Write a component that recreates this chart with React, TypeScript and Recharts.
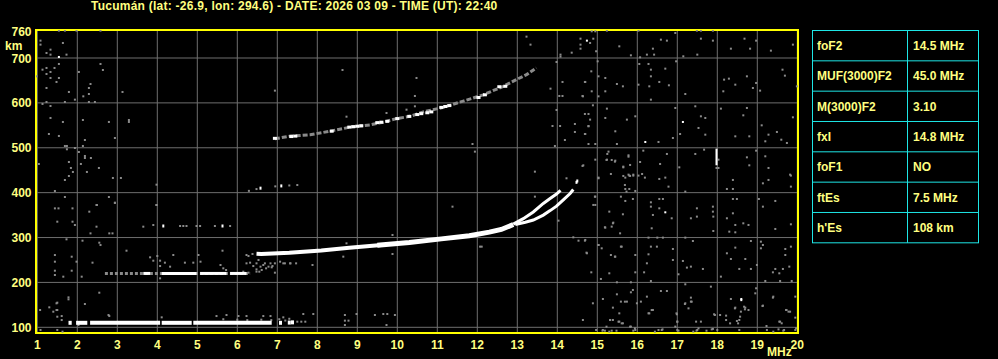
import React from 'react';
import { ScatterChart, Scatter, XAxis, YAxis, CartesianGrid, ReferenceArea } from 'recharts';

type P = [number, number];

const title = 'Tucumán (lat: -26.9, lon: 294.6) - DATE: 2026 03 09 - TIME (UT): 22:40';
const freqTicks = [1, 2, 3, 4, 5, 6, 7, 8, 9, 10, 11, 12, 13, 14, 15, 16, 17, 18, 19, 20];
const heightTicks = [100, 200, 300, 400, 500, 600, 700, 760];
const gridHeights = [100, 200, 300, 400, 500, 600, 700];

const paramNames = ['foF2', 'MUF(3000)F2', 'M(3000)F2', 'fxI', 'foF1', 'ftEs', "h'Es"];
const paramValues = ['14.5 MHz', '45.0 MHz', '3.10', '14.8 MHz', 'NO', '7.5 MHz', '108 km'];

// sporadic E trace (freq ranges at fixed virtual height)
const esHeight = 110;
const esSegments: P[] = [[1.78, 1.86], [1.97, 2.25], [2.32, 4.07], [4.11, 4.86], [4.9, 6.86]];
const esTail: P[] = [[7.08, 110], [7.3, 110.5], [7.38, 111]];

// Es second hop
const es2Height = 220;
const es2Gray: P = [2.69, 6.32];
const es2Segments: P[] = [[3.65, 3.82], [4.11, 4.98], [5.07, 5.73], [5.82, 6.23]];
const es3Gray: P[] = [[4.57, 325.7], [4.65, 325.7], [4.73, 325.7], [4.98, 325.7], [5.07, 325.7], [5.44, 325.7], [5.82, 325.7]];
const es3White: P[] = [[4.15, 325.7], [5.63, 325.7]];

// F layer trace
const fLow: P[] = [[6.48, 264], [6.6, 263.5], [7.3, 266], [8.1, 271], [8.8, 277], [9.6, 283.5]];
const fHigh: P[] = [[9.5, 282.7], [10.3, 289], [11.1, 297], [11.8, 304], [12.3, 312], [12.6, 318], [12.9, 329]];
const oBranch: P[] = [[12.9, 330], [13.15, 342], [13.4, 357], [13.65, 376], [13.82, 387], [13.98, 397], [14.08, 405]];
const xBranch: P[] = [[12.95, 329], [13.2, 334], [13.4, 339], [13.65, 350], [13.82, 360], [13.98, 370], [14.15, 384], [14.32, 398], [14.4, 407]];
const traceEnd: P[] = [[14.48, 423], [14.5, 426]];

// F second hop
const f2Hop: P[] = [[6.94, 520], [7.32, 526], [7.82, 529], [8.32, 537], [8.82, 546], [9.32, 551], [9.65, 557], [9.98, 565], [10.32, 570], [10.65, 580], [11.15, 590], [11.65, 604], [12.15, 618], [12.65, 637], [12.98, 652], [13.23, 663], [13.48, 678]];
const f2HopWhite: P[] = [[6.94, 521], [7.35, 525], [7.45, 526], [8.36, 537], [8.8, 546], [8.9, 547], [9.0, 548], [9.1, 549], [9.5, 556], [9.6, 557], [9.75, 559], [10.0, 565], [10.3, 570], [10.5, 574], [10.6, 576], [10.75, 578], [10.85, 580], [11.1, 590], [11.2, 592], [11.3, 594], [12.03, 612], [12.19, 618], [12.55, 636], [12.7, 637]];
const f2HopGray: P[] = [[8.73, 569.3], [9.73, 577.5], [10.23, 584.9], [10.44, 592.4], [8.63, 673.3], [10.48, 655.5], [10.44, 615.4], [11.88, 508.4], [6.94, 627.3]];
const fMidDots: P[] = [[6.29, 404], [6.48, 408], [6.95, 414], [7.3, 416], [7.5, 417]];
const fMidWhite: P[] = [[6.58, 410], [7.1, 415]];

const spikeWhite: P[] = [[17.98, 461], [17.98, 498]];

const noiseTopLeft: P[] = [[1.54, 761], [1.69, 761], [1.98, 761], [2.58, 761], [1.08, 738.7], [1.08, 729.8], [1.23, 711.2], [1.33, 718.6], [1.33, 707.5], [1.64, 733.5], [1.73, 707.5], [1.54, 686.7], [1.13, 674], [1.23, 677.8], [1.33, 668.9], [1.43, 677.8], [1.23, 664.4], [1.33, 655.5], [1.54, 655.5], [1.48, 646.6], [2.04, 668.9], [2.58, 686.7], [2.64, 673.3], [0.98, 659.2], [1.23, 633.2], [1.79, 624.3], [2.33, 642.1], [2.29, 633.2], [2.29, 619.8], [2.15, 614.6], [1.94, 607.2], [1.69, 602], [1.23, 602], [1.13, 597.6], [1.33, 593.1], [2.29, 602], [2.44, 602], [3.13, 624.3], [1.33, 566.4], [1.64, 557.5], [2.14, 561.9], [2.79, 557.5], [3.29, 561.9], [3.29, 557.5], [1.29, 530.7], [1.54, 526.3], [2.19, 517.3], [2.94, 521.8], [1.69, 504], [1.74, 504], [1.74, 496.6], [1.94, 499.5], [2.14, 504], [2.04, 490.6], [2.19, 481.7], [2.19, 477.2], [2.34, 477.2], [1.04, 463.9], [1.79, 468.3], [2.09, 463.9], [1.84, 455], [1.89, 446.1], [2.24, 446.1], [2.54, 455], [1.79, 437.1], [2.89, 432.7], [3.09, 432.7], [1.69, 428.2], [3.98, 417.8], [1.44, 403.7], [1.69, 390.3], [2.79, 390.3], [2.49, 372.5], [2.94, 377], [3.98, 372.5]];

const noiseTopMid: P[] = [[13.23, 747.6], [13.33, 729.8], [14.58, 743.1], [14.58, 729.8], [14.58, 720.8], [14.36, 711.9], [14.08, 707.5], [14.08, 703], [13.98, 691.1], [14.13, 646.6], [14.69, 646.6], [13.83, 631.7], [14.05, 615.4], [14.13, 615.4], [14.63, 615.4], [13.98, 584.2], [14.69, 575.3], [14.78, 575.3], [14.44, 553], [13.88, 548.5], [14.07, 548.5], [14.78, 548.5], [14.69, 530.7], [14.44, 535.2], [14.19, 517.3], [13.94, 504]];

const noiseTopRight: P[] = [[14.86, 759.5], [14.95, 759.5], [14.9, 743], [14.82, 733.5], [14.97, 715], [15.24, 761], [16.03, 761], [16.95, 755.8], [17.49, 761], [17.59, 761], [17.89, 761], [16.59, 740.9], [16.74, 738.7], [17.59, 743.1], [17.89, 738.7], [18.68, 743.1], [18.97, 738.7], [19.89, 729.8], [15.55, 726], [15.84, 706], [16.07, 701.5], [16.39, 720.8], [16.24, 707.5], [16.42, 707.5], [17.15, 703.8], [17.5, 707.5], [18.34, 720.8], [18.82, 720.8], [19.34, 716.4], [15.01, 692.6], [16.05, 686.7], [16.28, 686.7], [16.34, 674], [16.7, 676.3], [16.97, 692.6], [14.85, 670.3], [15.03, 659.2], [15.2, 655.5], [14.7, 646.6], [14.86, 625.8], [15.03, 614.6], [14.64, 614.6], [15.2, 625.8], [15.49, 642.1], [15.64, 636.9], [16.03, 640.6], [16.34, 659.2], [16.3, 636.9], [16.55, 646.6], [16.79, 639.2], [16.34, 607.2], [17.2, 619.8], [18.17, 651.8], [18.29, 654], [18.15, 625.8], [18.45, 640.6], [18.74, 659.2], [18.89, 633.2], [18.97, 644.4], [19.07, 627.3], [19.63, 674], [19.69, 660.7], [19.99, 636.9], [14.89, 594.6], [15.24, 587.2], [15.2, 566.4], [14.82, 562.7], [14.78, 547.8], [14.7, 530.7], [14.78, 508.4], [14.95, 508.4], [15.45, 536.7], [15.49, 508.4], [15.74, 562.7], [15.95, 570.1], [16.53, 512.9], [16.89, 521.8], [16.95, 588.7], [17.07, 530.7], [17.45, 592.4], [17.53, 544.1], [17.59, 570.1], [17.7, 566.4], [17.7, 529.2], [18.09, 587.2], [18.45, 525.5], [18.65, 572.3], [18.74, 588.7], [18.8, 525.5], [19.11, 550], [19.2, 514.4], [19.28, 529.2], [19.49, 535.2], [19.6, 518], [19.74, 510.7], [19.89, 567.9], [14.65, 460.9], [14.95, 473.5], [15.24, 473.5], [15.45, 471.3], [15.78, 483.2], [15.65, 456.4], [15.78, 440.1], [15.9, 440.1], [16.07, 468.3], [16.15, 493.6], [16.12, 441.6], [16.57, 463.9], [16.74, 486.2], [17.05, 456.4], [17.45, 486.2], [17.67, 495.8], [18.03, 473.5], [18.03, 455], [17.98, 455], [18.74, 478.7], [18.8, 460.9], [18.97, 493.6], [19.2, 481], [19.28, 455], [19.82, 440.1], [15.25, 486.2], [15.34, 441.6]];

const noiseBottomRight: P[] = [[15.03, 433.5], [15.7, 433.5], [15.8, 438], [15.9, 438], [16.03, 438], [16.19, 433.5], [16.55, 430.5], [16.7, 433.5], [18.39, 428.3], [19.28, 428.3], [19.84, 438], [19.14, 420.8], [15.7, 408.2], [15.8, 408.2], [15.95, 403.8], [16.78, 413.4], [17.2, 402.3], [18.24, 408.2], [18.39, 408.2], [19.84, 413.4], [14.95, 391.1], [14.95, 372.6], [15.59, 391.1], [15.7, 381.5], [15.89, 385.9], [16.34, 378.5], [16.34, 368.8], [16.55, 385.9], [16.64, 385.9], [16.55, 365.1], [16.86, 342.9], [16.39, 350.3], [15.64, 351.8], [15.3, 357.7], [15.2, 322.1], [15.36, 324.3], [15.39, 331.7], [16.36, 320.6], [17.49, 365.1], [17.49, 346.6], [17.34, 342.9], [17.89, 368.8], [17.89, 357.7], [17.9, 346.6], [17.9, 314.6], [18.24, 342.9], [18.39, 354], [18.45, 328], [18.65, 331.7], [18.78, 328], [18.3, 313.1], [18.45, 311.6], [19.14, 368.8], [19.45, 381.5], [19.04, 385.9], [19.45, 319.1], [19.84, 329.5], [18.49, 385.9], [18.39, 385.9], [14.7, 294.6], [15.03, 283.4], [14.74, 264.9], [15.34, 261.1], [15.45, 257.4], [15.59, 279.7], [15.95, 261.1], [16.28, 299.8], [16.34, 279.7], [16.49, 279.7], [16.64, 299.8], [16.5, 299.8], [16.28, 262.6], [16.24, 242.6], [16.89, 274.5], [16.89, 250], [17.2, 299.8], [17.39, 292.3], [17.14, 247.8], [17.24, 233], [17.34, 235.2], [17.64, 230], [17.03, 218.1], [14.85, 222.5], [15.3, 220.3], [15.95, 222.5], [16.17, 222.5], [15.09, 207.7], [15.49, 200.3], [15.84, 200.3], [16.34, 203.2], [18.09, 212.9], [18.24, 264.9], [18.45, 277.5], [18.34, 252.2], [18.7, 252.2], [18.84, 292.3], [18.99, 238.9], [19.09, 290.8], [19.09, 276], [19.14, 283.4], [19.7, 274.5], [19.84, 279.7], [19.7, 261.1], [19.8, 235.2], [19.64, 230], [19.45, 230], [19.55, 220.3], [19.39, 222.5], [19.2, 203.2], [19.57, 203.2], [19.86, 203.2], [18.55, 230], [18.84, 230], [17.2, 195.8], [17.84, 190.6], [18.97, 186.9], [18.95, 175.7], [19.4, 168.3], [19.72, 138.6], [19.78, 134.9], [19.95, 121.5], [19.95, 168.3], [15.89, 183.2], [15.84, 178], [15.49, 173.5], [14.89, 153.5], [15.14, 163.1], [15.39, 143.8], [15.59, 157.2], [15.74, 157.2], [15.99, 153.5], [16.09, 157.2], [16.24, 168.3], [16.39, 138.6], [16.28, 131.2], [16.59, 180.9], [16.74, 180.9], [16.99, 129], [17.0, 112.6], [17.34, 166.1], [17.34, 157.2], [17.2, 153.5], [17.59, 112.6], [17.92, 129], [18.22, 126], [18.34, 163.1], [18.45, 143.8], [18.7, 143.8], [18.59, 134.9], [18.49, 114.1], [18.55, 116.3], [19.14, 148.3], [19.39, 166.1], [19.55, 112.6], [19.61, 108.9], [14.64, 116.3], [15.32, 116.3], [15.39, 116.3], [15.55, 112.6], [15.64, 108.9], [15.84, 101.5], [15.95, 94], [14.97, 94], [15.14, 94], [15.3, 90.3], [16.53, 94], [16.61, 94], [17.0, 94], [17.4, 90.3], [17.5, 94], [17.89, 96.3], [18.0, 94], [18.55, 94], [19.24, 94], [19.67, 94], [19.95, 94], [16.95, 101.5], [17.47, 112.6]];

const noiseLowRight: P[] = [[15.69, 157.1], [16.36, 138.5], [16.3, 131.1], [15.55, 131.1], [15.32, 116.2], [15.53, 112.5], [15.61, 108.8], [15.23, 101.4], [15.19, 92.5], [15.13, 92.5], [15.36, 92.5], [15.48, 92.5], [15.82, 101.4], [15.9, 92.5], [15.94, 97.7], [16.44, 90.2], [16.63, 95.4], [16.98, 131.1], [17.0, 112.5], [17.03, 92.5], [17.19, 151.9], [17.28, 142.2], [17.36, 157.1], [17.48, 92.5], [17.53, 97.7], [17.73, 92.5], [17.86, 95.4], [17.94, 127.4], [18.07, 127.4], [18.22, 116.2], [18.32, 108.8], [18.44, 142.2], [18.52, 108.8], [18.57, 123.7], [18.67, 145.9], [18.69, 140], [18.78, 138.5], [19.13, 147.4], [19.23, 102.9], [19.4, 90.2], [19.53, 95.4], [19.65, 92.5], [19.57, 112.5], [19.73, 138.5], [19.82, 134.8], [19.97, 97.7]];

const noiseMid: P[] = [[11.94, 491.4], [13.44, 446.8], [14.63, 459.5], [15.28, 491.4], [15.36, 472.8], [15.23, 472.8], [15.44, 469.1], [15.65, 458], [15.78, 480.2], [15.82, 461.7], [15.03, 432], [15.65, 437.2], [15.82, 437.2], [15.69, 417.1], [15.73, 402.3], [11.38, 368.8], [13.44, 391.1], [14.94, 391.1], [14.9, 372.6], [14.03, 337.6], [15.19, 322.8], [15.4, 333.2], [14.4, 300.5], [14.53, 293], [14.69, 293], [14.73, 266.3], [15.03, 283.4], [15.11, 276], [15.61, 279.7], [15.57, 309.4], [15.44, 257.4], [12.11, 279.7], [14.23, 432], [8.73, 287.1], [9.88, 305.7], [9.88, 263.3], [12.07, 279.7], [8.65, 257.4], [7.88, 238.8]];

const noiseLowLeft: P[] = [[1.44, 365], [1.53, 365], [1.88, 365], [2.3, 357.6], [2.48, 372.5], [2.94, 377.7], [3.98, 372.5], [1.5, 335.3], [1.88, 335.3], [1.94, 327.9], [2.48, 324.2], [2.33, 309.3], [2.8, 309.3], [2.88, 309.3], [3.65, 324.2], [3.9, 327.9], [1.73, 296], [2.13, 293], [2.55, 288.5], [2.58, 283.3], [3.23, 270.7], [5.63, 270.7], [1.44, 261], [1.44, 246.2], [1.86, 257.3], [1.98, 246.2], [2.38, 244], [1.86, 226.1], [1.44, 226.1], [2.11, 212.8], [1.65, 212.8], [1.44, 216.5], [2.55, 177.1], [1.78, 166.7], [1.78, 162.3], [2.19, 151.9], [1.5, 154.9], [1.5, 138.5], [1.5, 123.6], [2.8, 125.1], [5.48, 125.1], [1.07, 138.5], [1.3, 144.5], [1.4, 134.8], [1.48, 153.4], [1.48, 138.5], [1.61, 125.1], [1.61, 116.2], [1.08, 94], [1.5, 94], [1.63, 90.2], [2.03, 105.1], [2.78, 127.4], [4.11, 122.2], [5.73, 127.4], [6.03, 125.1], [6.23, 125.1], [6.65, 125.1], [6.83, 125.1], [7.15, 122.2], [7.65, 129.6], [7.9, 129.6], [8.69, 127.4], [8.69, 114.8], [8.78, 114.8], [8.98, 129.6], [9.44, 127.4], [9.65, 129.6], [9.75, 129.6], [9.94, 127.4], [9.73, 105.1], [8.69, 105.1], [5.65, 118], [6.0, 117], [6.25, 116], [6.6, 117], [6.85, 116], [7.05, 118], [7.2, 115], [7.5, 112.5], [7.6, 112.5], [7.7, 112.5], [7.3, 119]];

const clusterGray: P[] = [[3.82, 255.9], [3.9, 248.4], [4.0, 258.8], [4.07, 248.4], [4.19, 244], [4.07, 236.5], [4.32, 235.1], [4.4, 261.1], [4.69, 244], [4.9, 244], [5.03, 261.1], [5.08, 246.2], [5.58, 238.8], [5.65, 231.4], [5.72, 227.6], [6.28, 258.8], [6.32, 244], [6.4, 236.5], [6.48, 229.1], [6.55, 223.9], [6.65, 238.8], [6.78, 235.1], [6.88, 236.5], [7.07, 246.2], [7.19, 242.5], [7.32, 242.5], [7.47, 242.5], [6.15, 223.9], [4.07, 209.1], [6.23, 261.1], [6.38, 263.3], [6.53, 250], [6.23, 242.5], [6.48, 242.5], [6.58, 235.1], [6.69, 242.5], [6.83, 242.5], [6.94, 242.5], [7.15, 242.5], [7.33, 242.5], [6.61, 227.7], [6.72, 231.4], [6.86, 233.6], [6.48, 224], [6.28, 221.7], [6.11, 220.2], [6.94, 221.7]];

const whiteSpecks: P[] = [[1.54, 702.3], [14.74, 738.7], [16.2, 512.9], [17.14, 557.5], [16.7, 356.2], [18.6, 163.1], [18.6, 160.5], [6.19, 220.2]];

const pts = (arr: P[]) => arr.map(([f, h]) => ({ f, h }));
const seg = ([a, b]: P, h: number) => [{ f: a, h }, { f: b, h }];

const YELLOW = '#ffff80';
const FONT = '"Liberation Sans", Arial, sans-serif';
const GRAY = '#8a8a8a';

const box = (w: number, hgt: number, color: string) => (props: any) => (
  <rect x={props.cx - w / 2} y={props.cy - hgt / 2} width={w} height={hgt} fill={color} />
);
const none = () => <g />;

const YTick = (props: any) => {
  const { y, payload } = props;
  return (
    <g>
      <text x={31.5} y={y + 4.5} textAnchor="end" fill={YELLOW} fontSize={12} fontWeight="bold" fontFamily={FONT}>
        {payload.value}
      </text>
      {payload.value === 760 && (
        <text x={5} y={y + 18.5} fill={YELLOW} fontSize={12} fontWeight="bold" fontFamily={FONT}>
          km
        </text>
      )}
    </g>
  );
};

const XTick = (props: any) => {
  const { x, payload } = props;
  return (
    <text x={x} y={349} textAnchor="middle" fill={YELLOW} fontSize={12} fontWeight="bold" fontFamily={FONT}>
      {payload.value}
    </text>
  );
};

const lineSeries = (data: { f: number; h: number }[], color: string, width: number, key: string, dash?: string) => (
  <Scatter
    key={key}
    data={data}
    fill={color}
    shape={none}
    line={{ stroke: color, strokeWidth: width, strokeDasharray: dash }}
    lineType="joint"
    isAnimationActive={false}
  />
);

const dotSeries = (data: P[], color: string, w: number, h: number, key: string) => (
  <Scatter key={key} data={pts(data)} fill={color} shape={box(w, h, color)} isAnimationActive={false} />
);

export default function App() {
  const rowH = 30.33;
  return (
    <div style={{ position: 'absolute', left: 0, top: 0, width: 998, height: 359, background: '#000', overflow: 'hidden' }}>
      <div
        style={{
          position: 'absolute', left: 91, top: 0, color: YELLOW, fontFamily: FONT, fontWeight: 'bold',
          fontSize: 12, lineHeight: '13px', whiteSpace: 'nowrap', letterSpacing: '0.25px',
        }}
      >
        {title}
      </div>
      <ScatterChart width={998} height={359} margin={{ top: 30, right: 200, bottom: 0, left: 0 }}>
        <CartesianGrid stroke="#6e6e6e" horizontalValues={gridHeights} verticalValues={freqTicks} />
        <XAxis
          type="number"
          dataKey="f"
          domain={[0.9675, 20.0175]}
          ticks={freqTicks}
          interval={0}
          allowDataOverflow
          axisLine={false}
          tickLine={false}
          tick={<XTick />}
          height={26}
        />
        <YAxis
          type="number"
          dataKey="h"
          domain={[87.3, 762.4]}
          ticks={heightTicks}
          interval={0}
          allowDataOverflow
          axisLine={false}
          tickLine={false}
          tick={<YTick />}
          width={36}
        />
        {dotSeries(noiseTopLeft, GRAY, 2, 2, 'ntl')}
        {dotSeries(noiseTopMid, GRAY, 2, 2, 'ntm')}
        {dotSeries(noiseTopRight, GRAY, 2, 2, 'ntr')}
        {dotSeries(noiseBottomRight, GRAY, 2, 2, 'nbr')}
        {dotSeries(noiseLowRight, GRAY, 2, 2, 'nlr')}
        {dotSeries(noiseMid, GRAY, 2, 2, 'nm')}
        {dotSeries(noiseLowLeft, GRAY, 2, 2, 'nll')}
        {dotSeries(clusterGray, GRAY, 2, 2, 'cg')}
        {dotSeries(f2HopGray, GRAY, 2, 2, 'f2g')}
        {dotSeries(fMidDots, GRAY, 2, 2, 'fmd')}
        {dotSeries(es3Gray, GRAY, 2, 2, 'e3g')}
        {lineSeries(seg(es2Gray, es2Height), GRAY, 3, 'e2g', '3 2')}
        {es2Segments.map((s, i) => lineSeries(seg(s, es2Height), '#fff', 3, `e2w${i}`))}
        {esSegments.map((s, i) => lineSeries(seg(s, esHeight), '#fff', 4, `esw${i}`))}
        {dotSeries(esTail, '#fff', 3, 4, 'est')}
        {lineSeries(pts(f2Hop), GRAY, 3, 'f2h', '5 2')}
        {dotSeries(f2HopWhite, '#fff', 4, 3, 'f2w')}
        {dotSeries(fMidWhite, '#fff', 2, 3, 'fmw')}
        {dotSeries(es3White, '#fff', 2, 3, 'e3w')}
        {lineSeries(pts(fLow), '#fff', 4, 'flo')}
        {lineSeries(pts(fHigh), '#fff', 5, 'fhi')}
        {lineSeries(pts(oBranch), '#fff', 3, 'ob')}
        {lineSeries(pts(xBranch), '#fff', 3, 'xb')}
        {dotSeries(traceEnd, '#fff', 2, 3, 'te')}
        {lineSeries(pts(spikeWhite), '#fff', 2, 'spk')}
        {dotSeries(whiteSpecks, '#fff', 2, 2, 'ws')}
        <ReferenceArea x1={0.9675} x2={20.0175} y1={87.3} y2={762.4} fill="none" stroke="#ffff00" strokeWidth={2} />
      </ScatterChart>
      <div
        style={{
          position: 'absolute', left: 767, top: 346, color: YELLOW, fontFamily: FONT, fontWeight: 'bold',
          fontSize: 12, lineHeight: '12px',
        }}
      >
        MHz
      </div>
      <svg style={{ position: 'absolute', left: 812, top: 30 }} width={167} height={214}>
        <rect x={0.5} y={0.5} width={166} height={rowH * 7} fill="none" stroke="#1ee6e6" />
        <line x1={95.5} y1={0.5} x2={95.5} y2={rowH * 7 + 0.5} stroke="#1ee6e6" />
        {paramNames.map((name, i) => (
          <g key={name}>
            {i > 0 && <line x1={0.5} y1={i * rowH + 0.5} x2={166.5} y2={i * rowH + 0.5} stroke="#1ee6e6" />}
            <text x={5} y={i * rowH + rowH / 2 + 5} fill={YELLOW} fontSize={12} fontWeight="bold" fontFamily={FONT}>
              {name}
            </text>
            <text x={101} y={i * rowH + rowH / 2 + 5} fill={YELLOW} fontSize={12} fontWeight="bold" fontFamily={FONT}>
              {paramValues[i]}
            </text>
          </g>
        ))}
      </svg>
    </div>
  );
}
